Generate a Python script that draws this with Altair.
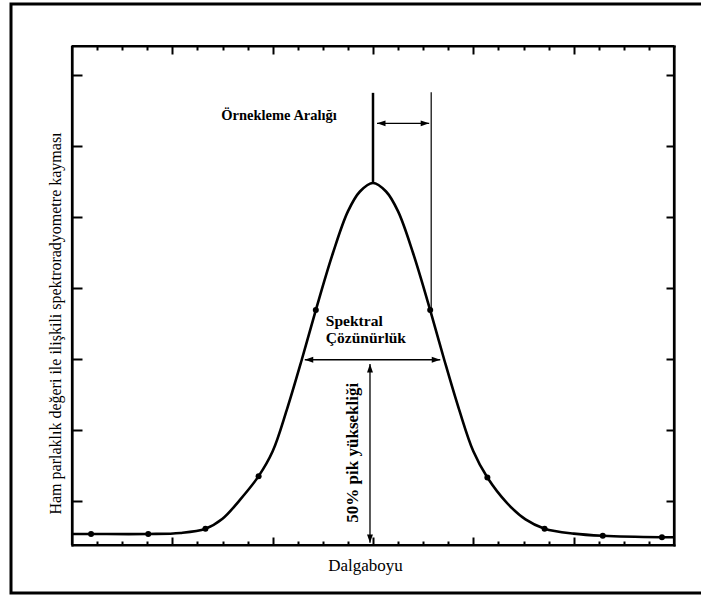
import altair as alt
import pandas as pd

# ---- data ----
curve_x = [0.00, 0.19, 0.76, 1.08, 1.33, 1.50, 1.67, 1.86, 2.00, 2.14, 2.29, 2.43, 2.60, 2.75, 2.87,
           3.00, 3.13, 3.25, 3.40, 3.57, 3.71, 3.86, 4.00, 4.14, 4.33, 4.52, 4.71, 5.00, 5.29, 5.88, 6.00]
curve_y = [0.535, 0.535, 0.535, 0.55, 0.61, 0.75, 1.01, 1.35, 1.70, 2.28, 2.99, 3.69, 4.49, 5.08, 5.36,
           5.48, 5.36, 5.08, 4.49, 3.69, 2.99, 2.28, 1.70, 1.33, 0.98, 0.74, 0.61, 0.54, 0.51, 0.49, 0.49]

dot_x = [0.19, 0.76, 1.33, 1.86, 2.43, 3.57, 4.14, 4.71, 5.29, 5.88]
dot_y = [0.535, 0.535, 0.61, 1.35, 3.69, 3.69, 1.33, 0.61, 0.51, 0.49]

# vertical guide lines: x, bottom, top, width
vline_x = [3.00, 3.58]
vline_y = [5.48, 3.69]
vline_y2 = [6.75, 6.76]
vline_w = [2.5, 1.2]

# arrows: shafts (x, x2, y, y2)
arrow_x = [3.04, 2.32, 2.97]
arrow_x2 = [3.56, 3.67, 2.97]
arrow_y = [6.32, 2.99, 2.93]
arrow_y2 = [6.32, 2.99, 0.41]

# arrow heads (tip positions and direction in degrees)
head_x = [3.04, 3.56, 2.32, 3.67, 2.97, 2.97]
head_y = [6.32, 6.32, 2.99, 2.99, 2.93, 0.41]
head_angle = [180, 0, 180, 0, 270, 90]

label_right_text = ["Örnekleme Aralığı"]
label_right_x = [2.64]
label_right_y = [6.37]

label_left_text = ["Spektral", "Çözünürlük"]
label_left_x = [2.53, 2.53]
label_left_y = [3.46, 3.23]

vert_text = ["50% pik yüksekliği"]
vert_x = [2.80]
vert_y = [1.68]

x_major = [1, 2, 3, 4, 5]
x_minor = [k / 4 for k in range(1, 24) if k % 4 != 0]
y_ticks = [1, 2, 3, 4, 5, 6, 7]

X_DOMAIN = [0, 6]
Y_DOMAIN = [0.38, 7.41]

x_title = "Dalgaboyu"
y_title = "Ham parlaklık değeri ile ilişkili spektroradyometre kayması"

# ---- layout ----
W, H = 602, 499
FONT = "Liberation Serif"

xs = alt.Scale(domain=X_DOMAIN, nice=False, zero=False)
ys = alt.Scale(domain=Y_DOMAIN, nice=False, zero=False)


def tick_axis(orient, offset, values, size, edge=False, **kw):
    # an axis whose ticks point into the plot; "edge" axes also draw the box side
    return alt.Axis(orient=orient, offset=offset, values=values, tickSize=size,
                    labels=False, domain=edge, domainColor="black", domainWidth=2.2,
                    domainCap="square", grid=False, ticks=True, zindex=1,
                    tickColor="black", tickWidth=2, **kw)


curve_df = pd.DataFrame({"x": curve_x, "y": curve_y})
dot_df = pd.DataFrame({"x": dot_x, "y": dot_y})
vline_df = pd.DataFrame({"x": vline_x, "y": vline_y, "y2": vline_y2, "w": vline_w})
arrow_df = pd.DataFrame({"x": arrow_x, "x2": arrow_x2, "y": arrow_y, "y2": arrow_y2})
head_df = pd.DataFrame({"x": head_x, "y": head_y, "a": head_angle})
lr_df = pd.DataFrame({"x": label_right_x, "y": label_right_y, "t": label_right_text})
ll_df = pd.DataFrame({"x": label_left_x, "y": label_left_y, "t": label_left_text})
vt_df = pd.DataFrame({"x": vert_x, "y": vert_y, "t": vert_text})
edge_df = pd.DataFrame({
    "x0": [X_DOMAIN[0], X_DOMAIN[0], X_DOMAIN[0], X_DOMAIN[1]],
    "x1": [X_DOMAIN[1], X_DOMAIN[1], X_DOMAIN[0], X_DOMAIN[1]],
    "y0": [Y_DOMAIN[0], Y_DOMAIN[1], Y_DOMAIN[0], Y_DOMAIN[0]],
    "y1": [Y_DOMAIN[0], Y_DOMAIN[1], Y_DOMAIN[1], Y_DOMAIN[1]],
})
one = pd.DataFrame({"k": [0]})

line = alt.Chart(curve_df).mark_line(
    color="black", strokeWidth=2.6, interpolate="catmull-rom"
).encode(
    x=alt.X("x:Q", scale=xs, axis=tick_axis(
        "top", -H, x_major, 8, edge=True, title=x_title, titleX=293, titleY=25,
        titleAlign="center", titleBaseline="alphabetic", titleAngle=0,
        titleFont=FONT, titleFontSize=17, titleFontWeight="normal", titleColor="black")),
    y=alt.Y("y:Q", scale=ys, axis=tick_axis(
        "right", -W, y_ticks, 10, edge=True, title=y_title, titleX=-17, titleY=277,
        titleAlign="center", titleBaseline="middle", titleAngle=270,
        titleFont=FONT, titleFontSize=16, titleFontWeight="normal", titleColor="black")),
)

dots = alt.Chart(dot_df).mark_circle(color="black", size=36, opacity=1).encode(
    x=alt.X("x:Q", scale=xs, axis=tick_axis("bottom", -H, x_major, 8, edge=True, title=None)),
    y=alt.Y("y:Q", scale=ys, axis=tick_axis("left", -W, y_ticks, 8, edge=True, title=None)),
)

vlines = alt.Chart(vline_df).mark_rule(color="black").encode(
    x=alt.X("x:Q", scale=xs, axis=tick_axis("top", -H, x_minor, 4, title=None)),
    y=alt.Y("y:Q", scale=ys, axis=None),
    y2="y2:Q",
    strokeWidth=alt.StrokeWidth("w:Q", scale=None),
)

arrows = alt.Chart(arrow_df).mark_rule(color="black", strokeWidth=1.3).encode(
    x=alt.X("x:Q", scale=xs, axis=tick_axis("bottom", -H, x_minor, 4, title=None)),
    x2="x2:Q",
    y=alt.Y("y:Q", scale=ys, axis=None),
    y2="y2:Q",
)

heads = alt.Chart(head_df).mark_point(
    shape="M0,0L-2,-0.7L-2,0.7Z", filled=True, color="black", size=72, opacity=1
).encode(
    x=alt.X("x:Q", scale=xs, axis=None),
    y=alt.Y("y:Q", scale=ys, axis=None),
    angle=alt.Angle("a:Q", scale=None),
)

txt_right = alt.Chart(lr_df).mark_text(
    align="right", baseline="alphabetic", font=FONT, fontSize=14.5, fontWeight="bold", color="black"
).encode(x=alt.X("x:Q", scale=xs, axis=None), y=alt.Y("y:Q", scale=ys, axis=None), text="t:N")

txt_left = alt.Chart(ll_df).mark_text(
    align="left", baseline="alphabetic", font=FONT, fontSize=15.5, fontWeight="bold", color="black"
).encode(x=alt.X("x:Q", scale=xs, axis=None), y=alt.Y("y:Q", scale=ys, axis=None), text="t:N")

txt_vert = alt.Chart(vt_df).mark_text(
    align="center", baseline="middle", angle=270, font=FONT, fontSize=17, fontWeight="bold", color="black"
).encode(x=alt.X("x:Q", scale=xs, axis=None), y=alt.Y("y:Q", scale=ys, axis=None), text="t:N")

plot_frame = alt.Chart(edge_df).mark_rule(color="black", strokeWidth=2.2).encode(
    x=alt.X("x0:Q", scale=xs, axis=None), x2="x1:Q",
    y=alt.Y("y0:Q", scale=ys, axis=None), y2="y1:Q",
)

outer_frame = alt.Chart(one).mark_rect(
    fillOpacity=0, stroke="black", strokeWidth=3
).encode(x=alt.value(-61), x2=alt.value(632), y=alt.value(-42), y2=alt.value(547))

chart = alt.layer(
    plot_frame, line, dots, vlines, arrows, heads, txt_right, txt_left, txt_vert, outer_frame
).resolve_axis(
    x="independent", y="independent"
).properties(
    width=W, height=H,
    autosize=alt.AutoSizeParams(type="none"),
    padding={"left": 72, "top": 46, "right": 27, "bottom": 52},
).configure(background="white")

chart.save("out.html", embed_options={"renderer": "svg", "actions": False})
